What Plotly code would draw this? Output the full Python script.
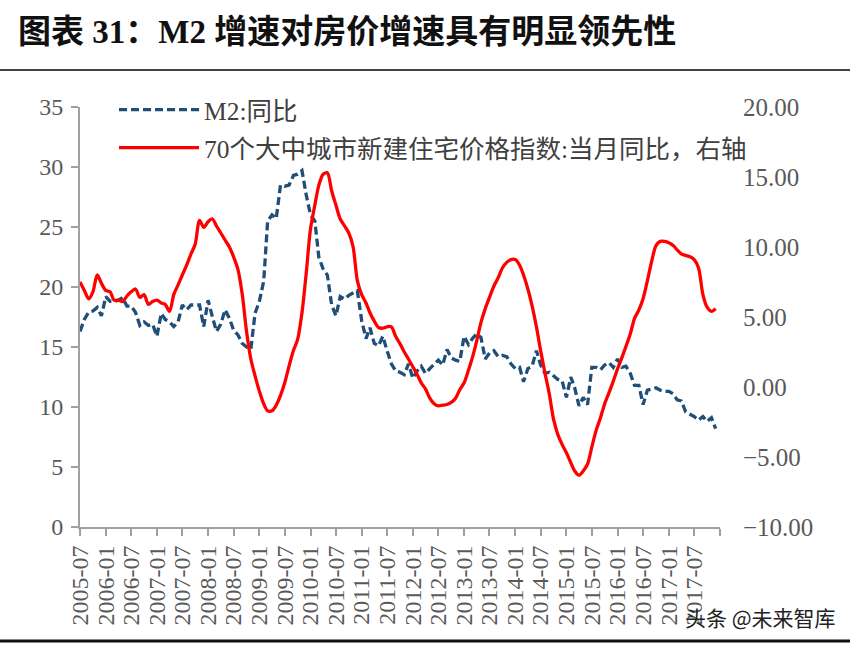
import plotly.graph_objects as go

# Monthly dates 2005-07 .. 2017-12
months = [f"{y}-{m:02d}-01" for y in range(2005, 2018) for m in range(1, 13)
          if (y, m) >= (2005, 7)]

# M2 year-on-year growth (%), left axis
m2_yoy = [
    16.3, 17.3, 17.9, 18.0, 18.3, 17.6,                               # 2005 H2
    19.2, 18.8, 18.8, 18.9, 19.1, 18.4, 18.4, 17.9, 16.8, 17.1, 16.8, 16.9,  # 2006
    15.9, 17.8, 17.3, 17.1, 16.7, 17.1, 18.5, 18.1, 18.5, 18.5, 18.5, 16.7,  # 2007
    18.9, 17.5, 16.3, 16.9, 18.1, 17.4, 16.4, 16.0, 15.3, 15.0, 14.8, 17.8,  # 2008
    18.8, 20.5, 25.5, 26.0, 25.7, 28.5, 28.4, 28.5, 29.3, 29.4, 29.7, 27.7,  # 2009
    26.0, 25.5, 22.5, 21.5, 21.0, 18.5, 17.6, 19.2, 19.0, 19.3, 19.5, 19.7,  # 2010
    17.2, 15.7, 16.6, 15.3, 15.1, 15.9, 14.7, 13.6, 13.0, 12.9, 12.7, 13.6,  # 2011
    12.4, 13.0, 13.4, 12.8, 13.2, 13.6, 13.9, 13.5, 14.8, 14.1, 13.9, 13.8,  # 2012
    15.9, 15.2, 15.7, 16.1, 15.8, 14.0, 14.5, 14.7, 14.2, 14.3, 14.2, 13.6,  # 2013
    13.2, 13.3, 12.1, 13.2, 13.4, 14.7, 13.5, 12.8, 12.9, 12.6, 12.3, 12.2,  # 2014
    10.8, 12.5, 11.6, 10.1, 10.8, 10.2, 13.3, 13.3, 13.1, 13.5, 13.7, 13.3,  # 2015
    14.0, 13.3, 13.4, 12.8, 11.8, 11.8, 10.2, 11.4, 11.5, 11.6, 11.4, 11.3,  # 2016
    11.3, 11.1, 10.6, 10.5, 9.6, 9.4, 9.2, 8.9, 9.2, 8.8, 9.1, 8.2,          # 2017
]

# 70 large & medium cities new residential price index, yoy (%), right axis
house_yoy = [
    7.5, 6.9, 6.3, 6.8, 8.0, 7.4,                                     # 2005 H2
    6.9, 6.8, 6.2, 6.2, 6.1, 6.5, 6.8, 7.0, 6.4, 6.6, 5.9, 6.1,       # 2006
    6.2, 6.0, 5.9, 5.4, 6.6, 7.3, 8.0, 8.7, 9.5, 10.2, 11.9, 11.4,    # 2007
    11.8, 12.0, 11.5, 11.0, 10.5, 10.0, 9.3, 8.4, 6.6, 4.0, 2.0, 0.8, # 2008
    -0.3, -1.2, -1.7, -1.7, -1.3, -0.6, 0.3, 1.5, 2.6, 3.4, 5.3, 8.1, # 2009
    11.3, 13.0, 14.4, 15.2, 15.3, 14.0, 13.0, 12.0, 11.5, 11.0, 10.0, 7.6,  # 2010
    6.6, 6.0, 5.3, 4.7, 4.25, 4.2, 4.3, 4.3, 3.6, 3.1, 2.5, 2.0,      # 2011
    1.45, 0.9, 0.3, -0.15, -0.8, -1.2, -1.35, -1.3, -1.25, -1.1, -0.8, -0.2,  # 2012
    0.3, 1.2, 2.1, 3.3, 4.6, 5.6, 6.4, 7.2, 7.8, 8.5, 8.9, 9.1,       # 2013
    9.1, 8.7, 8.0, 7.0, 5.8, 4.3, 2.6, 1.0, -0.5, -2.3, -3.4, -4.1,   # 2014
    -4.7, -5.4, -6.0, -6.3, -6.0, -5.5, -4.3, -3.1, -2.2, -1.2, -0.4, 0.4,  # 2015
    1.3, 2.1, 2.9, 3.8, 4.9, 5.5, 6.3, 7.6, 9.0, 10.1, 10.4, 10.4,    # 2016
    10.3, 10.1, 9.8, 9.5, 9.4, 9.3, 9.1, 8.5, 6.6, 5.7, 5.4, 5.6,     # 2017
]

# x tick labels every six months
tick_labels = [f"{y}-{m:02d}" for y in range(2005, 2018) for m in (1, 7)
               if (y, m) >= (2005, 7)]
tick_vals = [t + "-01" for t in tick_labels] + ["2018-01-01"]
tick_text = tick_labels + [""]

left_ticks = [0, 5, 10, 15, 20, 25, 30, 35]
right_ticks = [-10, -5, 0, 5, 10, 15, 20]

title_text = "图表 31：M2 增速对房价增速具有明显领先性"
name_m2 = "M2:同比"
name_house = "70个大中城市新建住宅价格指数:当月同比，右轴"

SERIF = "Liberation Serif, Times New Roman, Noto Sans CJK SC, serif"
GRAY = "#595959"
AXIS = "#A0A0A0"

fig = go.Figure()
fig.add_trace(go.Scatter(
    x=months, y=m2_yoy, name=name_m2, mode="lines",
    line=dict(color="#1F4E79", width=3.3, dash="8px,4px"),
    legend="legend", yaxis="y",
))
fig.add_trace(go.Scatter(
    x=months, y=house_yoy, name=name_house, mode="lines",
    line=dict(color="#FF0000", width=3.3, shape="spline", smoothing=0.8),
    legend="legend2", yaxis="y2",
))

fig.update_layout(
    width=858, height=648,
    margin=dict(l=80, r=138, t=107, b=121),
    paper_bgcolor="white", plot_bgcolor="white",
    showlegend=True,
    title=dict(
        text=title_text, xref="container", yref="container",
        x=18 / 858, xanchor="left", y=1 - 31 / 648, yanchor="middle",
        font=dict(family=SERIF, size=33, color="#111111", weight="bold"),
    ),
    legend=dict(
        x=(114 - 80) / 640, xanchor="left",
        y=(527 - 110) / 420, yanchor="middle",
        bgcolor="rgba(0,0,0,0)", itemwidth=80,
        font=dict(family=SERIF, size=25.5, color="#404040"),
    ),
    legend2=dict(
        x=(114 - 80) / 640, xanchor="left",
        y=(527 - 148) / 420, yanchor="middle",
        bgcolor="rgba(0,0,0,0)", itemwidth=80,
        font=dict(family=SERIF, size=25.5, color="#404040"),
    ),
    xaxis=dict(
        type="date", range=["2005-07-01", "2018-01-01"],
        tickmode="array", tickvals=tick_vals, ticktext=tick_text,
        tickangle=-90, ticks="outside", ticklen=7, tickwidth=1.5,
        tickcolor=AXIS, showline=True, linecolor=AXIS, linewidth=2,
        showgrid=False, zeroline=False,
        tickfont=dict(family=SERIF, size=24, color=GRAY),
    ),
    yaxis=dict(
        range=[0, 35], tickmode="array", tickvals=left_ticks,
        ticks="outside", ticklen=7, tickwidth=1.5, tickcolor=AXIS,
        showline=True, linecolor=AXIS, linewidth=2,
        showgrid=False, zeroline=False, ticklabelstandoff=3,
        tickfont=dict(family=SERIF, size=24, color=GRAY),
    ),
    yaxis2=dict(
        range=[-10, 20], overlaying="y", side="right",
        tickmode="array", tickvals=right_ticks, tickformat=".2f",
        ticks="", showline=False, showgrid=False, zeroline=False,
        ticklabelstandoff=22,
        tickfont=dict(family=SERIF, size=25, color=GRAY),
    ),
    shapes=[
        dict(type="line", xref="paper", yref="paper",
             x0=-80 / 640, x1=(850 - 80) / 640,
             y0=(527 - 70) / 420, y1=(527 - 70) / 420,
             line=dict(color="#444444", width=2)),
        dict(type="line", xref="paper", yref="paper",
             x0=-80 / 640, x1=(850 - 80) / 640,
             y0=(527 - 641) / 420, y1=(527 - 641) / 420,
             line=dict(color="#111111", width=3)),
    ],
    annotations=[
        dict(text="头条 @未来智库", xref="paper", yref="paper",
             x=(683 - 80) / 640, xanchor="left",
             y=(527 - 617) / 420, yanchor="middle",
             showarrow=False,
             font=dict(family="Noto Sans CJK SC", size=21, color="#222222")),
    ],
)

fig.write_html("out.html")
